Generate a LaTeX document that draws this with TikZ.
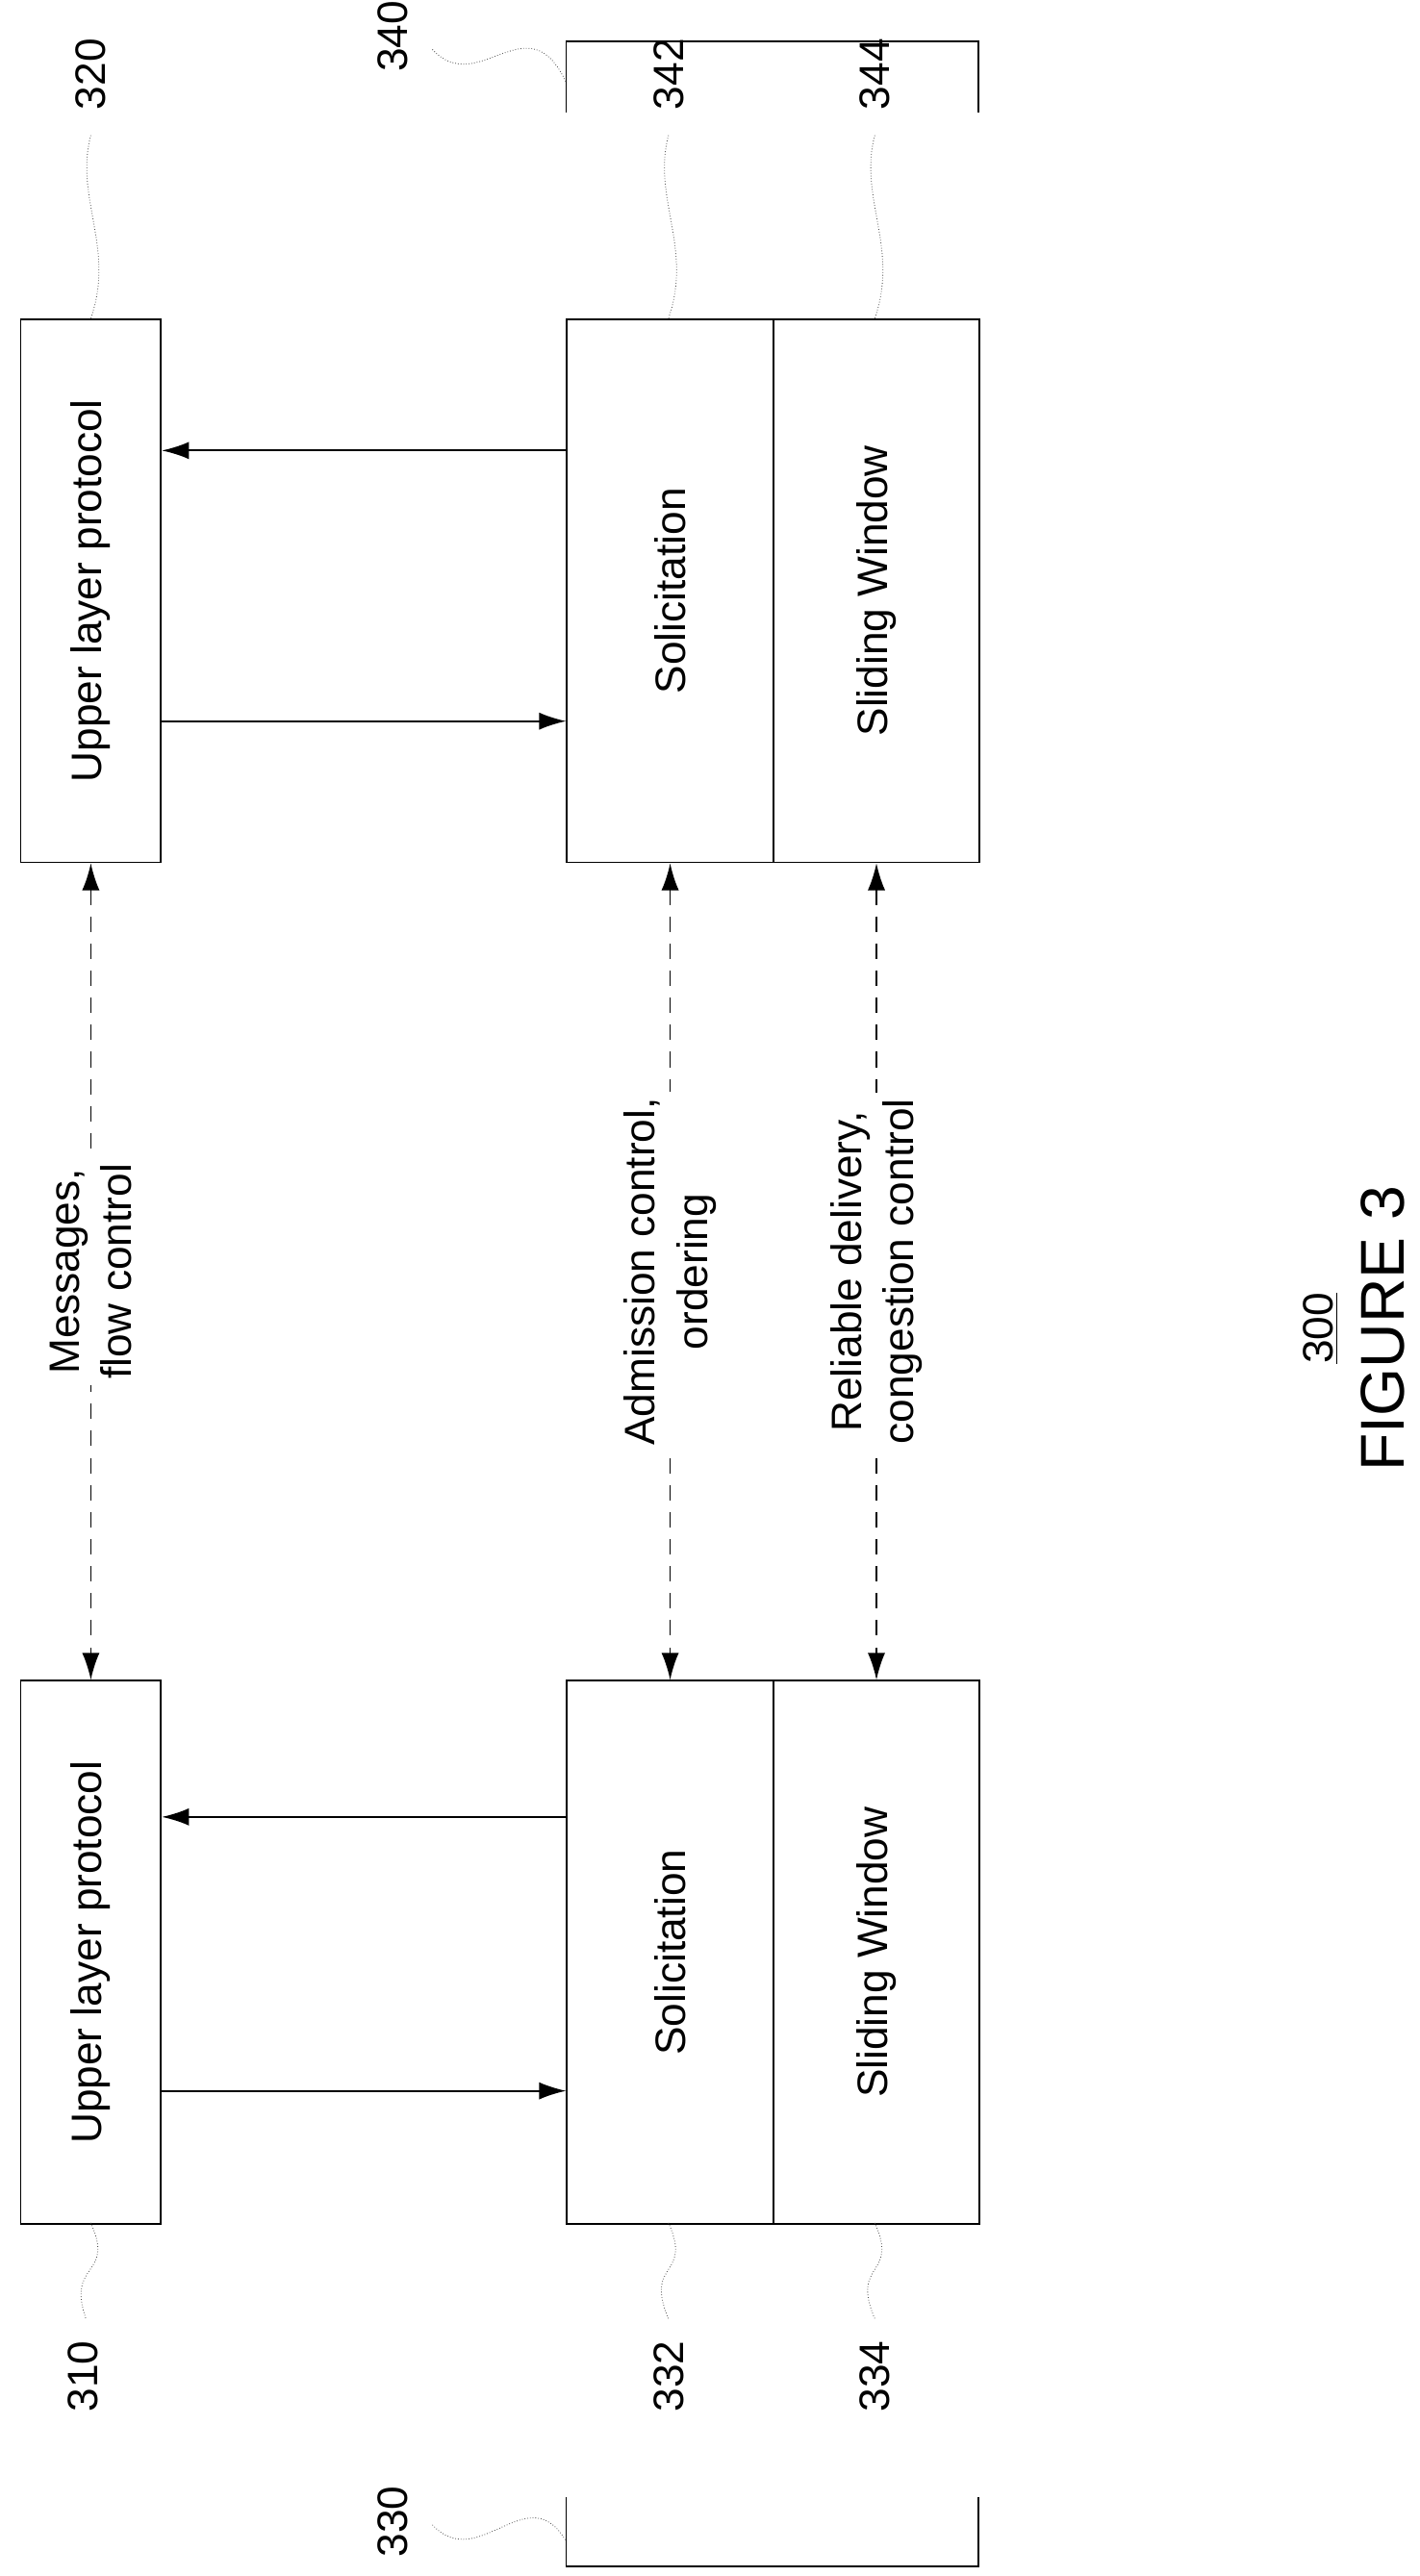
\documentclass[tikz,border=0pt]{standalone}
\usepackage{fontspec}
\setmainfont{Liberation Sans}
\usetikzlibrary{arrows.meta}
\begin{document}
\begin{tikzpicture}[x=0.03cm,y=-0.03cm,
 box/.style={draw,line width=0.9pt,inner sep=0,anchor=north west,minimum height=9.87cm},
 txt/.style={rotate=90,font=\fontsize{22}{27}\selectfont},
 num/.style={rotate=90,font=\fontsize{22}{27}\selectfont},
 arr/.style={line width=0.9pt,-{Latex[length=14pt,width=9pt]}},
 darr/.style={line width=0.9pt,dash pattern=on 8pt off 6pt,{Latex[length=14pt,width=9pt]}-{Latex[length=14pt,width=9pt]}},
 lead/.style={line width=0.4pt,densely dotted,gray!60!black}]
\useasboundingbox (0,0) rectangle (860,1561);
% top row
\node[box,minimum width=2.55cm] (u2) at (12,193) {};
\node[txt] at (u2.center) {Upper layer protocol};
\node[box,minimum width=3.75cm] (s2) at (343,193) {};
\node[txt] at (s2.center) {Solicitation};
\node[box,minimum width=3.75cm] (w2) at (468,193) {};
\node[txt] at (w2.center) {Sliding Window};
% bottom row
\node[box,minimum width=2.55cm] (u1) at (12,1018) {};
\node[txt] at (u1.center) {Upper layer protocol};
\node[box,minimum width=3.75cm] (s1) at (343,1018) {};
\node[txt] at (s1.center) {Solicitation};
\node[box,minimum width=3.75cm] (w1) at (468,1018) {};
\node[txt] at (w1.center) {Sliding Window};
% solid arrows
\draw[arr] (s2.west |- 0,273) -- (u2.east |- 0,273);
\draw[arr] (u2.east |- 0,437) -- (s2.west |- 0,437);
\draw[arr] (s1.west |- 0,1101) -- (u1.east |- 0,1101);
\draw[arr] (u1.east |- 0,1267) -- (s1.west |- 0,1267);
% dashed arrows
\draw[darr] (u2.south) -- (u1.north) node[midway,fill=white,inner sep=3pt,txt,align=center]{Messages,\\flow control};
\draw[darr] (s2.south) -- (s1.north) node[midway,fill=white,inner sep=3pt,txt,align=center]{Admission control,\\ordering};
\draw[darr] (w2.south) -- (w1.north) node[midway,fill=white,inner sep=3pt,txt,align=center]{Reliable delivery,\\congestion control};
% brackets
\draw[line width=0.9pt] (343,68) -- (343,25) -- (593,25) -- (593,68);
\draw[line width=0.9pt] (343,1513) -- (343,1555) -- (593,1555) -- (593,1513);
% numbers
\node[num] (n320) at (55,45) {320};
\node[num] (n340) at (238,22) {340};
\node[num] (n342) at (405,45) {342};
\node[num] (n344) at (530,45) {344};
\node[num] (n310) at (50,1440) {310};
\node[num] (n332) at (405,1440) {332};
\node[num] (n334) at (530,1440) {334};
\node[num] (n330) at (238,1528) {330};
% leaders
\draw[lead] (55,82) .. controls (45,120) and (70,150) .. (55,193);
\draw[lead] (405,82) .. controls (395,120) and (420,150) .. (405,193);
\draw[lead] (530,82) .. controls (520,120) and (545,150) .. (530,193);
\draw[lead] (262,30) .. controls (290,60) and (320,0) .. (343,50);
\draw[lead] (55,1347) .. controls (70,1380) and (40,1370) .. (52,1405);
\draw[lead] (405,1347) .. controls (420,1380) and (390,1370) .. (405,1405);
\draw[lead] (530,1347) .. controls (545,1380) and (515,1370) .. (530,1405);
\draw[lead] (262,1530) .. controls (290,1560) and (320,1500) .. (343,1540);
% figure caption
\node[rotate=90,font=\fontsize{22}{27}\selectfont] (n300) at (800,805) {\underline{300}};
\node[rotate=90,font=\fontsize{32}{38}\selectfont] (fig) at (838,805) {FIGURE 3};
\end{tikzpicture}
\end{document}
